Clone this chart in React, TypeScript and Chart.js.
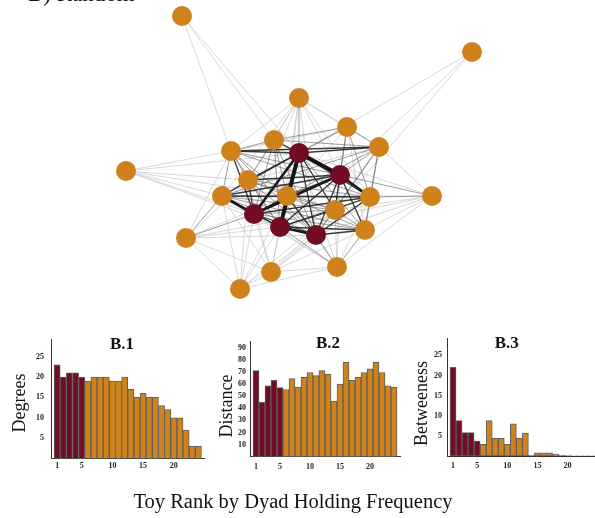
import React, { useEffect, useRef } from "react";
import { Chart, registerables } from "chart.js";

Chart.register(...registerables);

const SERIF = "'Liberation Serif', 'Times New Roman', Times, serif";
const MAROON = "#710d24";
const ORANGE = "#d0831b";
const NODE_ORANGE = "#cf821b";
const NODE_MAROON = "#730c22";

// ---------- Network data (layout units) ----------
const NODE_X = [182, 472, 299, 347, 274, 379, 231, 299, 126, 248, 340, 222, 287, 370, 432, 335, 254, 280, 365, 316, 186, 271, 337, 240];
const NODE_Y = [16, 52, 98, 127, 140, 147, 151, 153, 171, 180, 175, 196, 196, 197, 196, 210, 214, 227, 230, 235, 238, 272, 267, 289];
const NODE_TOP5 = [0, 0, 0, 0, 0, 0, 0, 1, 0, 0, 1, 0, 0, 0, 0, 0, 1, 1, 0, 1, 0, 0, 0, 0];

// [from, to, weight class 1..5]
const EDGES: [number, number, number][] = [
  // maroon - maroon
  [7, 10, 5], [7, 16, 4], [7, 17, 5], [7, 19, 3], [10, 16, 4], [10, 17, 3], [10, 19, 3], [16, 17, 3], [16, 19, 3], [17, 19, 4],
  // maroon - orange
  [7, 2, 2], [7, 3, 2], [7, 4, 3], [7, 5, 3], [7, 6, 3], [7, 9, 3], [7, 11, 3], [7, 12, 3], [7, 13, 3], [7, 15, 3], [7, 18, 2],
  [10, 3, 2], [10, 4, 2], [10, 5, 2], [10, 6, 2], [10, 9, 3], [10, 11, 3], [10, 12, 3], [10, 13, 4], [10, 15, 3], [10, 18, 3],
  [16, 4, 2], [16, 5, 2], [16, 6, 3], [16, 9, 3], [16, 11, 4], [16, 12, 3], [16, 13, 3], [16, 15, 2], [16, 18, 2],
  [17, 4, 2], [17, 6, 2], [17, 9, 2], [17, 11, 3], [17, 12, 3], [17, 13, 3], [17, 15, 3], [17, 18, 3],
  [19, 4, 2], [19, 5, 2], [19, 6, 2], [19, 9, 2], [19, 11, 2], [19, 12, 3], [19, 13, 3], [19, 15, 2], [19, 18, 3],
  // orange - orange core
  [6, 5, 3], [6, 4, 2], [6, 9, 2], [6, 11, 2], [6, 12, 2], [6, 13, 2],
  [4, 3, 2], [4, 5, 2], [4, 9, 2], [4, 12, 2], [4, 13, 1], [4, 15, 1],
  [3, 5, 2], [3, 13, 2], [3, 15, 2], [3, 6, 1], [3, 9, 1], [3, 11, 1], [3, 12, 1], [3, 18, 1],
  [5, 13, 2], [5, 15, 2], [5, 18, 2], [5, 11, 2], [5, 9, 1],
  [9, 11, 2], [9, 12, 2], [9, 13, 2], [9, 15, 2],
  [11, 12, 2], [11, 13, 3], [11, 15, 2], [11, 18, 2],
  [12, 13, 2], [12, 15, 2], [12, 18, 2],
  [13, 15, 2], [13, 18, 2], [15, 18, 2],
  // periphery
  [0, 6, 1], [0, 4, 1], [0, 7, 1],
  [1, 7, 1], [1, 10, 1], [1, 15, 1],
  [2, 4, 1], [2, 6, 1], [2, 9, 1], [2, 12, 1], [2, 16, 1], [2, 17, 1], [2, 19, 1], [2, 10, 1], [2, 5, 1], [2, 3, 1], [2, 11, 1], [2, 13, 1],
  [8, 6, 1], [8, 11, 1], [8, 9, 1], [8, 16, 1], [8, 12, 1], [8, 7, 1], [8, 17, 1],
  [14, 13, 2], [14, 10, 2], [14, 15, 1], [14, 18, 1], [14, 19, 1], [14, 7, 1], [14, 5, 1], [14, 22, 1], [14, 17, 1], [14, 12, 1],
  [20, 11, 2], [20, 16, 2], [20, 17, 1], [20, 6, 1], [20, 9, 1], [20, 12, 1], [20, 19, 1], [20, 23, 1], [20, 21, 1], [20, 15, 1],
  [21, 16, 1], [21, 17, 1], [21, 19, 1], [21, 11, 1], [21, 12, 1], [21, 23, 1], [21, 22, 1], [21, 15, 1], [21, 18, 1], [21, 13, 1], [21, 9, 1],
  [22, 19, 2], [22, 17, 2], [22, 16, 1], [22, 18, 2], [22, 13, 1], [22, 15, 1], [22, 11, 1], [22, 12, 1], [22, 10, 1], [22, 7, 1], [22, 23, 1],
  [23, 16, 1], [23, 17, 1], [23, 11, 1], [23, 19, 1], [23, 12, 1], [23, 9, 1], [23, 15, 1],
];

const EDGE_STYLE: Record<number, { color: string; width: number }> = {
  1: { color: "rgba(190,190,190,0.75)", width: 0.8 },
  2: { color: "rgba(110,110,110,0.75)", width: 0.9 },
  3: { color: "rgba(35,35,35,0.9)", width: 1.3 },
  4: { color: "rgba(25,25,25,1)", width: 2.6 },
  5: { color: "rgba(20,20,20,1)", width: 4 },
};

// ---------- Bar data ----------
const RANKS = [1, 2, 3, 4, 5, 6, 7, 8, 9, 10, 11, 12, 13, 14, 15, 16, 17, 18, 19, 20, 21, 22, 23, 24];
const X_TICKS = [1, 5, 10, 15, 20];
const HIGHLIGHT_COUNT = 5;
const DEGREES = [23, 20, 21, 21, 20, 19, 20, 20, 20, 19, 19, 20, 17, 15, 16, 15, 15, 13, 12, 10, 10, 7, 3, 3];
const DISTANCE = [71, 45, 58.5, 63, 57, 55.5, 64.5, 57.5, 65.5, 69.5, 67, 71, 68, 46, 60, 78, 63, 65.5, 69.5, 72.5, 78, 69.5, 58.5, 57.5];
const BETWEENNESS = [22, 8.8, 5.8, 5.8, 3.7, 2.9, 8.8, 4.4, 4.4, 2.9, 8, 4.4, 5.7, 0.2, 0.8, 0.8, 0.8, 0.5, 0.2, 0.1, 0.05, 0.05, 0.05, 0.05];
const DEGREE_TICKS = [5, 10, 15, 20, 25];
const DISTANCE_TICKS = [10, 20, 30, 40, 50, 60, 70, 80, 90];
const BETWEEN_TICKS = [5, 10, 15, 20, 25];

const PAGE_W = 595;
const PAGE_H = 518;

function Network() {
  const ref = useRef<HTMLCanvasElement>(null);
  useEffect(() => {
    const edgePlugin = {
      id: "edges",
      beforeDatasetsDraw(chart: any) {
        const { ctx } = chart;
        const sx = chart.scales.x;
        const sy = chart.scales.y;
        ctx.save();
        ctx.lineCap = "round";
        const sorted = [...EDGES].sort((a, b) => a[2] - b[2]);
        for (const [a, b, w] of sorted) {
          const st = EDGE_STYLE[w];
          ctx.strokeStyle = st.color;
          ctx.lineWidth = st.width;
          ctx.beginPath();
          ctx.moveTo(sx.getPixelForValue(NODE_X[a]), sy.getPixelForValue(NODE_Y[a]));
          ctx.lineTo(sx.getPixelForValue(NODE_X[b]), sy.getPixelForValue(NODE_Y[b]));
          ctx.stroke();
        }
        ctx.restore();
      },
    };
    const textPlugin = {
      id: "pageText",
      afterDraw(chart: any) {
        const { ctx } = chart;
        ctx.save();
        ctx.fillStyle = "#111";
        ctx.textBaseline = "alphabetic";
        ctx.textAlign = "left";
        ctx.font = `23px ${SERIF}`;
        ctx.fillText("B) Random", 28, 1);
        ctx.textAlign = "center";
        ctx.font = `20.5px ${SERIF}`;
        ctx.fillText("Toy Rank by Dyad Holding Frequency", 293, 508);
        ctx.restore();
      },
    };
    const chart = new Chart(ref.current as HTMLCanvasElement, {
      type: "scatter",
      data: {
        datasets: [
          {
            data: NODE_X.map((x, i) => ({ x, y: NODE_Y[i] })),
            pointRadius: 10,
            pointHoverRadius: 10,
            pointBorderWidth: 0,
            pointBackgroundColor: NODE_TOP5.map((t) => (t ? NODE_MAROON : NODE_ORANGE)),
            pointBorderColor: NODE_TOP5.map((t) => (t ? NODE_MAROON : NODE_ORANGE)),
            clip: false,
          },
        ],
      },
      options: {
        responsive: false,
        animation: false,
        events: [],
        layout: { padding: 0, autoPadding: false },
        plugins: { legend: { display: false }, tooltip: { enabled: false } },
        scales: {
          x: { type: "linear", min: 0, max: PAGE_W, display: false },
          y: { type: "linear", min: 0, max: PAGE_H, reverse: true, display: false },
        },
      },
      plugins: [edgePlugin, textPlugin],
    } as any);
    return () => chart.destroy();
  }, []);
  return (
    <canvas
      ref={ref}
      width={PAGE_W}
      height={PAGE_H}
      style={{ position: "absolute", left: 0, top: 0 }}
    />
  );
}

type PanelCfg = {
  canvas: { left: number; top: number; width: number; height: number };
  area: { l: number; r: number; t: number; b: number };
  xMax: number;
  yMax: number;
  yTicks: number[];
  values: number[];
  title: string;
  titleAt: [number, number];
  yTitle: string;
  yTitleAt: [number, number];
  yTickPad: number;
  xTickPad: number;
};

const PANELS: PanelCfg[] = [
  {
    canvas: { left: 0, top: 320, width: 215, height: 160 },
    area: { l: 51, r: 204.5, t: 339, b: 458.7 },
    xMax: 25, yMax: 29.3, yTicks: DEGREE_TICKS, values: DEGREES,
    title: "B.1", titleAt: [122, 345], yTitle: "Degrees", yTitleAt: [20, 403],
    yTickPad: 7, xTickPad: 2.5,
  },
  {
    canvas: { left: 195, top: 320, width: 215, height: 160 },
    area: { l: 250, r: 400, t: 341.6, b: 456.8 },
    xMax: 25, yMax: 95, yTicks: DISTANCE_TICKS, values: DISTANCE,
    title: "B.2", titleAt: [328, 344], yTitle: "Distance", yTitleAt: [227.5, 406],
    yTickPad: 4, xTickPad: 5.5,
  },
  {
    canvas: { left: 395, top: 320, width: 215, height: 160 },
    area: { l: 447, r: 597.75, t: 338, b: 456 },
    xMax: 25, yMax: 29.3, yTicks: BETWEEN_TICKS, values: BETWEENNESS,
    title: "B.3", titleAt: [506.7, 344], yTitle: "Betweeness", yTitleAt: [422, 403.5],
    yTickPad: 5, xTickPad: 5.5,
  },
];

function BarPanel({ cfg }: { cfg: PanelCfg }) {
  const ref = useRef<HTMLCanvasElement>(null);
  useEffect(() => {
    const c = cfg.canvas;
    const a = cfg.area;
    const tickFont = { family: SERIF, size: 8, weight: "bold" as const };
    const textPlugin = {
      id: "panelText",
      afterDraw(chart: any) {
        const { ctx } = chart;
        ctx.save();
        ctx.fillStyle = "#111";
        ctx.textAlign = "center";
        ctx.textBaseline = "middle";
        ctx.font = `bold 17px ${SERIF}`;
        ctx.fillText(cfg.title, cfg.titleAt[0] - c.left, cfg.titleAt[1] - c.top);
        ctx.translate(cfg.yTitleAt[0] - c.left, cfg.yTitleAt[1] - c.top);
        ctx.rotate(-Math.PI / 2);
        ctx.font = `18px ${SERIF}`;
        ctx.fillText(cfg.yTitle, 0, 0);
        ctx.restore();
      },
    };
    const chart = new Chart(ref.current as HTMLCanvasElement, {
      type: "bar",
      data: {
        datasets: [
          {
            data: RANKS.map((r, i) => ({ x: r, y: cfg.values[i] })),
            backgroundColor: RANKS.map((_, i) => (i < HIGHLIGHT_COUNT ? MAROON : ORANGE)),
            borderColor: "#5e5e5e",
            borderWidth: 1,
            borderSkipped: false,
            barPercentage: 1,
            categoryPercentage: 1,
          },
        ],
      },
      options: {
        responsive: false,
        animation: false,
        events: [],
        layout: {
          autoPadding: false,
          padding: { left: 0, top: a.t - c.top, right: c.left + c.width - a.r, bottom: 0 },
        },
        plugins: { legend: { display: false }, tooltip: { enabled: false }, title: { display: false } },
        scales: {
          x: {
            type: "linear",
            min: 0,
            max: cfg.xMax,
            offset: false,
            grid: { display: false, drawTicks: false },
            border: { display: true, color: "#333", width: 1 },
            ticks: {
              font: tickFont,
              color: "#222",
              padding: cfg.xTickPad,
              autoSkip: false,
              maxRotation: 0,
              callback: (v: any) => String(v),
            },
            afterBuildTicks: (s: any) => {
              s.ticks = X_TICKS.map((v) => ({ value: v }));
            },
            afterFit: (s: any) => {
              s.height = c.top + c.height - a.b;
            },
          },
          y: {
            type: "linear",
            min: 0,
            max: cfg.yMax,
            grid: { display: false, drawTicks: false },
            border: { display: true, color: "#333", width: 1 },
            ticks: {
              font: tickFont,
              color: "#222",
              padding: cfg.yTickPad,
              callback: (v: any) => String(v),
            },
            afterBuildTicks: (s: any) => {
              s.ticks = cfg.yTicks.map((v) => ({ value: v }));
            },
            afterFit: (s: any) => {
              s.width = a.l - c.left;
            },
          },
        },
      },
      plugins: [textPlugin],
    } as any);
    return () => chart.destroy();
  }, [cfg]);
  return (
    <canvas
      ref={ref}
      width={cfg.canvas.width}
      height={cfg.canvas.height}
      style={{ position: "absolute", left: cfg.canvas.left, top: cfg.canvas.top }}
    />
  );
}

export default function App() {
  return (
    <div
      style={{
        position: "fixed",
        left: 0,
        top: 0,
        width: PAGE_W,
        height: PAGE_H,
        overflow: "hidden",
        background: "#fff",
      }}
    >
      <Network />
      {PANELS.map((p) => (
        <BarPanel key={p.title} cfg={p} />
      ))}
    </div>
  );
}
